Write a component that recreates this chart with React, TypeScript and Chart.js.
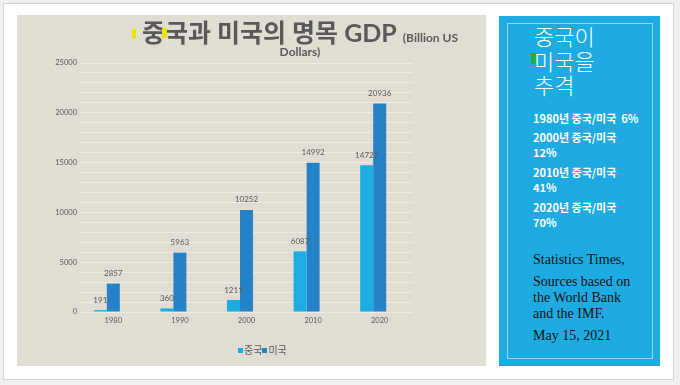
import React, { useEffect, useRef } from 'react';
import { Chart, registerables } from 'chart.js';

Chart.register(...registerables);

// ---- data ----
const years = ['1980', '1990', '2000', '2010', '2020'];
const chinaGdp = [191, 360, 1211, 6087, 14722];
const usGdp = [2857, 5963, 10252, 14992, 20936];
const seriesNames = ['중국', '미국'];
const seriesColors = ['#1eade3', '#2682c6'];
const yMax = 25000;
const yStep = 1000;
const yLabelStep = 5000;

const titleMain = '중국과 미국의 명목 GDP';
const titleSub1 = '(Billion US';
const titleSub2 = 'Dollars)';

const sideTitle = ['중국이', '미국을', '추격'];
const ratioNotes = [
  ['1980년 중국/미국  6%'],
  ['2000년 중국/미국', '12%'],
  ['2010년 중국/미국', '41%'],
  ['2020년 중국/미국', '70%'],
];
const sourceNotes = [
  ['Statistics Times,'],
  ['Sources based on', 'the World Bank', 'and the IMF.'],
  ['May 15, 2021'],
];

const TEXT_GRAY = '#595959';
const LATIN_FONT = "Lato, 'Noto Sans CJK KR', sans-serif";

const valueLabelPlugin = {
  id: 'valueLabels',
  afterDatasetsDraw(chart: any) {
    const ctx = chart.ctx;
    ctx.save();
    ctx.font = "8px Lato, 'Noto Sans CJK KR', sans-serif";
    ctx.fillStyle = TEXT_GRAY;
    ctx.textAlign = 'center';
    ctx.textBaseline = 'middle';
    chart.data.datasets.forEach((ds: any, i: number) => {
      if (ds.isSpacer) return;
      const meta = chart.getDatasetMeta(i);
      meta.data.forEach((bar: any, j: number) => {
        const v = ds.data[j];
        if (v == null) return;
        ctx.fillText(String(v), bar.x, bar.y - 10);
      });
    });
    ctx.restore();
  },
};

function GdpChart() {
  const ref = useRef<HTMLCanvasElement | null>(null);
  useEffect(() => {
    if (!ref.current) return;
    const chart = new Chart(ref.current, {
      type: 'bar',
      data: {
        labels: years,
        datasets: [
          { label: seriesNames[0], data: chinaGdp, backgroundColor: seriesColors[0], borderWidth: 0 },
          { label: seriesNames[1], data: usGdp, backgroundColor: seriesColors[1], borderWidth: 0 },
          // empty slot so the pair sits left of the category centre, as in the source
          { label: '', data: [], backgroundColor: 'rgba(0,0,0,0)', isSpacer: true } as any,
        ],
      },
      options: {
        responsive: false,
        animation: false,
        layout: { padding: { top: 48, left: 0, right: 73, bottom: 37 } },
        datasets: { bar: { categoryPercentage: 0.585, barPercentage: 1 } },
        plugins: {
          legend: { display: false },
          title: { display: false },
          tooltip: { enabled: false },
        },
        scales: {
          x: {
            grid: { display: false, drawTicks: false },
            border: { display: false },
            ticks: { color: TEXT_GRAY, font: { family: LATIN_FONT, size: 7.5 }, padding: 4 },
          },
          y: {
            min: 0,
            max: yMax,
            grid: { color: '#eeebe4', lineWidth: 1, drawTicks: false },
            border: { display: false },
            ticks: {
              stepSize: yStep,
              autoSkip: false,
              padding: 3,
              color: TEXT_GRAY,
              font: { family: LATIN_FONT, size: 7.5 },
              callback: (v: any) => (Number(v) % yLabelStep === 0 ? String(v) : ''),
            },
            afterFit: (s: any) => {
              s.width = 63;
            },
          },
        },
      },
      plugins: [valueLabelPlugin],
    });
    return () => chart.destroy();
  }, []);
  return <canvas ref={ref} width={469} height={351} style={{ display: 'block' }} />;
}

export default function App() {
  useEffect(() => {
    document.body.style.margin = '0';
  }, []);
  const abs = (l: number, t: number, w: number, h: number): React.CSSProperties => ({
    position: 'absolute',
    left: l,
    top: t,
    width: w,
    height: h,
    boxSizing: 'border-box',
  });
  return (
    <div style={{ position: 'absolute', left: 0, top: 0, width: 680, height: 385, background: '#f0f0f0', overflow: 'hidden' }}>
      <div style={{ ...abs(3, 3, 671, 377), background: '#ffffff', border: '1px solid #d4d4d4' }} />
      {/* chart panel */}
      <div style={{ ...abs(17, 15, 469, 351), background: '#e2ddd3' }}>
        <GdpChart />
      </div>
      {/* title */}
      <div
        style={{
          position: 'absolute',
          left: 100,
          width: 400,
          top: 18,
          textAlign: 'center',
          color: TEXT_GRAY,
          fontFamily: LATIN_FONT,
          fontWeight: 700,
          whiteSpace: 'nowrap',
        }}
      >
        <div style={{ height: 28, lineHeight: '28px' }}>
          <span style={{ fontSize: 25 }}>{titleMain}</span>
          <span style={{ fontSize: 12, marginLeft: 6 }}>{titleSub1}</span>
        </div>
        <div style={{ fontSize: 12, lineHeight: '14px', marginTop: -1 }}>{titleSub2}</div>
      </div>
      <div style={{ ...abs(132, 29, 4, 10), background: '#e6e600' }} />
      <div style={{ ...abs(162, 28, 5, 10), background: '#e6e600' }} />
      {/* legend */}
      <div
        style={{
          position: 'absolute',
          left: 238,
          top: 343,
          height: 14,
          lineHeight: '14px',
          fontSize: 10,
          color: TEXT_GRAY,
          fontFamily: "'Noto Sans CJK KR', sans-serif",
          whiteSpace: 'nowrap',
          display: 'flex',
          alignItems: 'center',
        }}
      >
        {seriesNames.map((n, i) => (
          <React.Fragment key={n}>
            <span style={{ display: 'inline-block', width: 5, height: 5, background: seriesColors[i], marginRight: 1 }} />
            <span>{n}</span>
          </React.Fragment>
        ))}
      </div>
      {/* side panel */}
      <div style={{ ...abs(499, 16, 161, 350), background: '#1eabe2' }} />
      <div style={{ ...abs(507, 23, 146, 336), border: '1px solid rgba(255,255,255,0.55)' }} />
      <div style={{ ...abs(531, 53, 5, 11), background: '#1eae3a' }} />
      <div
        style={{
          position: 'absolute',
          left: 534,
          top: 23,
          color: '#ffffff',
          fontFamily: "'Noto Sans CJK KR', sans-serif",
          fontWeight: 300,
          fontSize: 22,
          lineHeight: '24.5px',
          whiteSpace: 'nowrap',
        }}
      >
        {sideTitle.map((t) => (
          <div key={t}>{t}</div>
        ))}
      </div>
      <div
        style={{
          position: 'absolute',
          left: 533,
          top: 110.5,
          color: '#ffffff',
          fontFamily: "'Noto Sans CJK KR', sans-serif",
          fontWeight: 700,
          fontSize: 11,
          lineHeight: '15px',
          whiteSpace: 'pre',
        }}
      >
        {ratioNotes.map((p, i) => (
          <div key={i} style={{ marginTop: i === 0 ? 0 : 4.7 }}>
            {p.map((l) => (
              <div key={l}>{l}</div>
            ))}
          </div>
        ))}
      </div>
      <div
        style={{
          position: 'absolute',
          left: 533,
          top: 252,
          color: '#111111',
          fontFamily: "'Liberation Serif', serif",
          fontSize: 14,
          lineHeight: '16px',
          whiteSpace: 'nowrap',
        }}
      >
        {sourceNotes.map((p, i) => (
          <div key={i} style={{ marginTop: i === 0 ? 0 : 6 }}>
            {p.map((l) => (
              <div key={l}>{l}</div>
            ))}
          </div>
        ))}
      </div>
    </div>
  );
}
